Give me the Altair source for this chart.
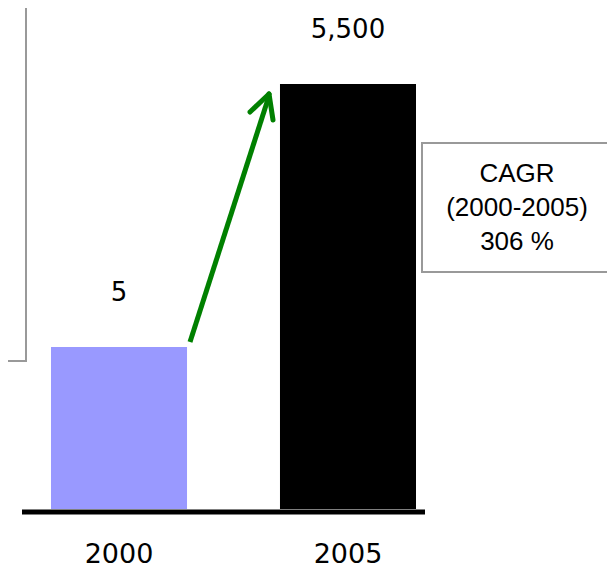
import altair as alt
import pandas as pd

years = ["2000", "2005"]
values = [5, 5500]
bar_colors = ["#9999FF", "#000000"]
cagr_lines = ["CAGR", "(2000-2005)", "306 %"]

df = pd.DataFrame({"year": years, "value": values})
one = pd.DataFrame({"k": [0]})

y_min = 0.0669
x_scale = alt.Scale(domain=years, range=[43, 408], paddingInner=0.406, paddingOuter=0)
y_scale = alt.Scale(type="log", domain=[y_min, 5500], range=[501, 76], nice=False)

base = alt.Chart(df)

bars = base.mark_rect().encode(
    x=alt.X("year:N", scale=x_scale, axis=None),
    y=alt.Y("value:Q", scale=y_scale, axis=None),
    y2=alt.Y2(datum=y_min),
    color=alt.Color("year:N", scale=alt.Scale(domain=years, range=bar_colors), legend=None),
)

value_labels = base.mark_text(font="DejaVu Sans", fontSize=26, color="black", dy=-54, baseline="middle").encode(
    x=alt.X("year:N", scale=x_scale, axis=None, bandPosition=0.5),
    y=alt.Y("value:Q", scale=y_scale, axis=None),
    text=alt.Text("value:Q", format=","),
)

year_labels = base.mark_text(font="DejaVu Sans", fontSize=27, color="black", baseline="middle").encode(
    x=alt.X("year:N", scale=x_scale, axis=None, bandPosition=0.5),
    y=alt.value(547),
    text="year:N",
)

baseline = alt.Chart(one).mark_rule(color="black", strokeWidth=5).encode(
    x=alt.value(14), x2=alt.value(417), y=alt.value(504)
)

box_style = dict(color="#999999", strokeWidth=2)
cagr_top = alt.Chart(one).mark_rule(**box_style).encode(
    x=alt.value(413), x2=alt.value(599), y=alt.value(135)
)
cagr_bottom = alt.Chart(one).mark_rule(**box_style).encode(
    x=alt.value(413), x2=alt.value(599), y=alt.value(264)
)
cagr_left = alt.Chart(one).mark_rule(**box_style).encode(
    x=alt.value(414), y=alt.value(135), y2=alt.value(264)
)
cagr_text = alt.Chart(one).mark_text(
    text=cagr_lines, font="Liberation Sans", fontSize=26, lineHeight=34,
    align="center", baseline="middle", color="black",
).encode(x=alt.value(509), y=alt.value(166))

left_box = alt.Chart(one).mark_rect(fill="white", stroke="#999999", strokeWidth=2).encode(
    x=alt.value(-80), x2=alt.value(18), y=alt.value(-30), y2=alt.value(353)
)
left_text = alt.Chart(one).mark_text(
    text="r", font="Liberation Sans", fontSize=24, align="right", baseline="middle", color="black"
).encode(x=alt.value(-3), y=alt.value(283))

arrow_shaft = alt.Chart(one).mark_rule(color="#008000", strokeWidth=5).encode(
    x=alt.value(182), y=alt.value(334), x2=alt.value(261), y2=alt.value(88)
)
arrow_l = alt.Chart(one).mark_rule(color="#008000", strokeWidth=5, strokeCap="round").encode(
    x=alt.value(261), y=alt.value(86), x2=alt.value(242), y2=alt.value(104)
)
arrow_r = alt.Chart(one).mark_rule(color="#008000", strokeWidth=5, strokeCap="round").encode(
    x=alt.value(261), y=alt.value(86), x2=alt.value(265), y2=alt.value(112)
)

chart = alt.layer(
    left_box, left_text, bars, baseline, value_labels, year_labels,
    cagr_top, cagr_bottom, cagr_left, cagr_text, arrow_shaft, arrow_l, arrow_r,
).properties(
    width=599, height=563,
    autosize=alt.AutoSizeParams(type="none"),
    padding=0,
).configure_view(strokeWidth=0)

chart.save("out.html", embed_options={"renderer": "svg", "actions": False})
